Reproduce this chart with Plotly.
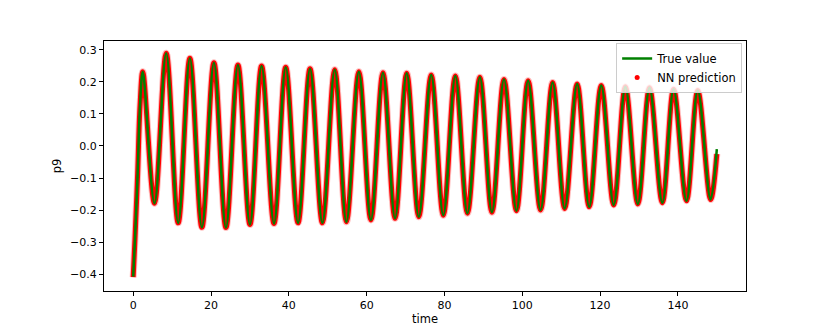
import plotly.graph_objects as go

# turning points of p9 (time, value)
time = [0.0, 0.45, 1.15, 1.75, 2.47, 5.47, 8.48, 11.57, 14.57, 17.66, 20.75, 23.84,
        26.92, 30.01, 33.0, 36.19, 39.2, 42.37, 45.45, 48.63, 51.8, 54.8, 58.0,
        61.1, 64.2, 67.3, 70.3, 73.4, 76.6, 79.7, 82.8, 85.9, 89.1, 92.2, 95.3,
        98.5, 101.5, 104.7, 107.8, 110.9, 114.1, 117.2, 120.3, 123.5, 126.5,
        129.7, 132.7, 136.0, 138.9, 142.2, 145.1, 148.4, 150.0]
true_p9 = [-0.408, -0.294, -0.085, 0.123, 0.232, -0.179, 0.290, -0.240, 0.274,
           -0.254, 0.260, -0.255, 0.253, -0.245, 0.250, -0.242, 0.246, -0.240,
           0.241, -0.240, 0.238, -0.237, 0.232, -0.231, 0.229, -0.226, 0.227,
           -0.221, 0.222, -0.216, 0.219, -0.210, 0.215, -0.207, 0.208, -0.202,
           0.204, -0.200, 0.198, -0.195, 0.194, -0.190, 0.189, -0.184, 0.185,
           -0.181, 0.182, -0.177, 0.177, -0.171, 0.173, -0.167, -0.010]
pred_p9 = [-0.410, -0.294, -0.085, 0.123, 0.232, -0.179, 0.290, -0.240, 0.274,
           -0.254, 0.260, -0.255, 0.253, -0.245, 0.250, -0.242, 0.246, -0.240,
           0.241, -0.240, 0.238, -0.237, 0.232, -0.231, 0.229, -0.226, 0.227,
           -0.221, 0.222, -0.216, 0.219, -0.210, 0.215, -0.207, 0.208, -0.202,
           0.204, -0.200, 0.198, -0.195, 0.194, -0.190, 0.189, -0.184, 0.185,
           -0.181, 0.182, -0.177, 0.177, -0.171, 0.173, -0.167, -0.025]

x_ticks = [0, 20, 40, 60, 80, 100, 120, 140]
y_ticks = [0.3, 0.2, 0.1, 0.0, -0.1, -0.2, -0.3, -0.4]

fig = go.Figure()
# dense red prediction dots look like a thick band, soft edge under it
fig.add_trace(go.Scatter(x=time, y=pred_p9, mode="lines", showlegend=False,
                         line=dict(color="rgba(255,0,0,0.25)", width=7, shape="spline")))
fig.add_trace(go.Scatter(x=time, y=pred_p9, mode="lines", showlegend=False,
                         line=dict(color="#ff0000", width=5, shape="spline")))
fig.add_trace(go.Scatter(x=time, y=true_p9, mode="lines", name="True value",
                         line=dict(color="#008000", width=2.5, shape="spline")))
fig.add_trace(go.Scatter(x=[None], y=[None], mode="markers", name="NN prediction",
                         marker=dict(color="#ff0000", size=5)))

axis = dict(showline=True, linecolor="black", linewidth=1, mirror=True,
            ticks="outside", ticklen=4, tickcolor="black", showgrid=False,
            zeroline=False, automargin=False, tickfont=dict(size=11, color="black"))
fig.update_xaxes(axis, range=[-7.5, 157.5], tickvals=x_ticks,
                 title=dict(text="time", standoff=2, font=dict(size=11.5)))
fig.update_yaxes(axis, range=[-0.453, 0.328], tickvals=y_ticks, tickformat=".1f",
                 title=dict(text="p9", standoff=6, font=dict(size=11.5)))

# page body has an 8px margin, so the figure is shrunk by that much
fig.update_layout(
    width=822, height=324,
    margin=dict(l=96, r=84, t=33, b=41),
    paper_bgcolor="white", plot_bgcolor="white",
    font=dict(family="DejaVu Sans", size=11.5, color="black"),
    legend=dict(x=0.994, y=0.992, xanchor="right", yanchor="top",
                bgcolor="rgba(255,255,255,0.8)", bordercolor="#cccccc", borderwidth=1,
                font=dict(size=11.5), tracegroupgap=0),
)

fig.write_html("out.html")
